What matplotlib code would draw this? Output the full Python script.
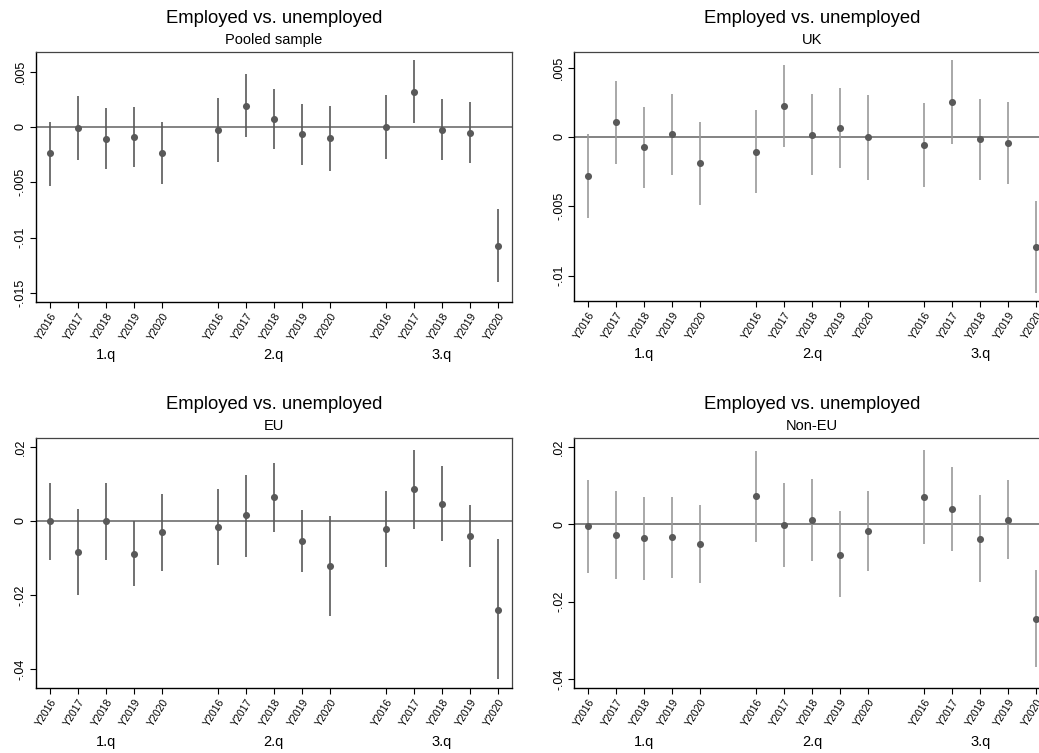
import matplotlib
matplotlib.use("Agg")
import matplotlib.pyplot as plt
import numpy as np

plt.rcParams['font.family'] = ['Liberation Sans', 'DejaVu Sans']

years = ["Y2016", "Y2017", "Y2018", "Y2019", "Y2020"]
quarters = ["1.q", "2.q", "3.q"]
title = "Employed vs. unemployed"

# pooled sample: point estimate, upper, lower (1.q, 2.q, 3.q each Y2016..Y2020)
pooled_b = [-0.00238, -0.00012, -0.00105, -0.00087, -0.00235,
            -0.00024, 0.00189, 0.00072, -0.00066, -0.00102,
            0.0, 0.00316, -0.00024, -0.00051, -0.0107]
pooled_hi = [0.00048, 0.00277, 0.00171, 0.00183, 0.00042,
             0.00262, 0.00475, 0.00343, 0.00204, 0.00189,
             0.00289, 0.00601, 0.00256, 0.00222, -0.00737]
pooled_lo = [-0.00529, -0.00301, -0.00379, -0.00358, -0.00511,
             -0.00313, -0.00093, -0.00198, -0.0034, -0.00394,
             -0.00292, 0.00033, -0.00301, -0.00328, -0.01398]

uk_b = [-0.00282, 0.00106, -0.00075, 0.00019, -0.0019,
        -0.00106, 0.00224, 0.00017, 0.00067, 0.0,
        -0.0006, 0.00253, -0.00017, -0.00046, -0.00792]
uk_hi = [0.00019, 0.00407, 0.00217, 0.00308, 0.00111,
         0.00197, 0.00522, 0.00308, 0.00356, 0.00306,
         0.00246, 0.00554, 0.00277, 0.00253, -0.0046]
uk_lo = [-0.00587, -0.00193, -0.00366, -0.00272, -0.00491,
         -0.00407, -0.00075, -0.00272, -0.00221, -0.0031,
         -0.00363, -0.00048, -0.0031, -0.00339, -0.01124]

eu_b = [-0.00009, -0.00846, -0.00009, -0.00882, -0.00306,
        -0.00153, 0.00153, 0.00639, -0.00549, -0.01215,
        -0.00216, 0.00864, 0.00468, -0.00405, -0.02393]
eu_hi = [0.01017, 0.00315, 0.01017, -0.00009, 0.00729,
         0.00864, 0.01251, 0.01556, 0.00288, 0.00135,
         0.00801, 0.01925, 0.01485, 0.00441, -0.00495]
eu_lo = [-0.01044, -0.02006, -0.01044, -0.01745, -0.0134,
         -0.01179, -0.00963, -0.00288, -0.01386, -0.02573,
         -0.01242, -0.00207, -0.0054, -0.01251, -0.04274]

noneu_b = [-0.00052, -0.00284, -0.00362, -0.00336, -0.00517,
           0.00723, -0.00026, 0.00112, -0.00784, -0.00181,
           0.00715, 0.00387, -0.0037, 0.00112, -0.02437]
noneu_hi = [0.01154, 0.00852, 0.00706, 0.00715, 0.00491,
            0.01886, 0.01068, 0.01162, 0.00344, 0.00852,
            0.01929, 0.01481, 0.00758, 0.01145, -0.01188]
noneu_lo = [-0.01257, -0.01412, -0.01429, -0.01378, -0.01507,
            -0.00448, -0.01111, -0.00947, -0.01886, -0.01214,
            -0.00499, -0.00689, -0.0149, -0.00904, -0.03685]

# x positions: 5 years per quarter, one empty slot between quarters
xpos = [q * 6 + i for q in range(3) for i in range(5)]

W, H = 1039, 753
fig = plt.figure(figsize=(W / 100, H / 100), dpi=100)

panels = [
    ("Pooled sample", pooled_b, pooled_lo, pooled_hi, [35.7, 52.3, 511.7, 301.7],
     (-0.01577, 0.00674), [0.005, 0, -0.005, -0.01, -0.015], [".005", "0", "-.005", "-.01", "-.015"], "#595959"),
    ("UK", uk_b, uk_lo, uk_hi, [574.3, 52.3, 1050.3, 301.0],
     (-0.01184, 0.00611), [0.005, 0, -0.005, -0.01], [".005", "0", "-.005", "-.01"], "#999999"),
    ("EU", eu_b, eu_lo, eu_hi, [35.7, 438.3, 511.7, 688.0],
     (-0.04507, 0.02231), [0.02, 0, -0.02, -0.04], [".02", "0", "-.02", "-.04"], "#595959"),
    ("Non-EU", noneu_b, noneu_lo, noneu_hi, [574.3, 438.3, 1050.3, 688.0],
     (-0.04227, 0.02221), [0.02, 0, -0.02, -0.04], [".02", "0", "-.02", "-.04"], "#999999"),
]

for sub, b, lo, hi, box, ylim, yt, ytl, cicol in panels:
    x0, y0, x1, y1 = box
    ax = fig.add_axes([x0 / W, 1 - y1 / H, (x1 - x0) / W, (y1 - y0) / H])
    ax.axhline(0, color="#7a7a7a", lw=1.3, zorder=1)
    ax.vlines(xpos, lo, hi, color=cicol, lw=1.2, zorder=2)
    ax.scatter(xpos, b, s=26, color="#595959", zorder=3, linewidths=0)
    ax.set_xlim(-0.5, 16.5)
    ax.set_ylim(*ylim)
    ax.set_yticks(yt)
    ax.set_yticklabels(ytl, rotation=90, va="center", fontsize=9)
    ax.set_xticks(xpos)
    ax.set_xticklabels(years * 3, rotation=58, ha="right", rotation_mode="anchor", fontsize=7.5)
    ax.tick_params(length=4, width=0.8, pad=2.5)
    for s in ["left", "bottom"]:
        ax.spines[s].set_color("black")
        ax.spines[s].set_linewidth(1.0)
    for s in ["top", "right"]:
        ax.spines[s].set_color("#444444")
        ax.spines[s].set_linewidth(0.9)
    for q, lab in enumerate(quarters):
        ax.text(q * 6 + 2, -0.215, lab, transform=ax.get_xaxis_transform(),
                ha="center", va="center", fontsize=10.5)
    cx = (x0 + x1) / 2 / W
    fig.text(cx, 1 - (y0 - 34) / H, title, ha="center", va="center", fontsize=13.3)
    fig.text(cx, 1 - (y0 - 12.5) / H, sub, ha="center", va="center", fontsize=10.5)

fig.savefig("out.png", dpi=100, facecolor="white")
